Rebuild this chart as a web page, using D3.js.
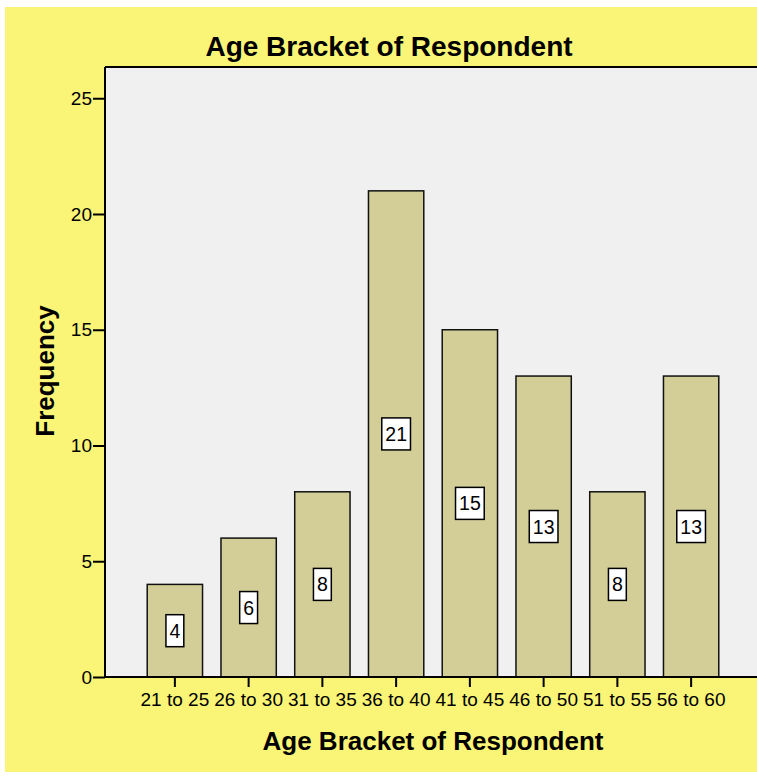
<!DOCTYPE html>
<html>
<head>
<meta charset="utf-8">
<script src="https://cdn.jsdelivr.net/npm/d3@7"></script>
<style>
  body { margin: 0; background: #fff; }
  svg text { font-family: Arial, "Liberation Sans", sans-serif; }
</style>
</head>
<body>
<svg id="chart" width="757" height="776"></svg>
<script>
let categories = ["21 to 25", "26 to 30", "31 to 35", "36 to 40", "41 to 45", "46 to 50", "51 to 55", "56 to 60"];
let frequencies = [4, 6, 8, 21, 15, 13, 8, 13];
let yTicks = [0, 5, 10, 15, 20, 25];

let svg = d3.select("#chart");

// yellow frame
svg.append("rect")
    .attr("x", 5).attr("y", 7)
    .attr("width", 752).attr("height", 765)
    .attr("fill", "#FAF576");

let plot = { left: 105, top: 67, right: 757, bottom: 677 };

let x = d3.scaleBand()
    .domain(categories)
    .range([138, 728])
    .paddingInner(0.25)
    .paddingOuter(0.125);

let y = d3.scaleLinear()
    .domain([0, 25])
    .range([plot.bottom, 98.25]);

// plot background
svg.append("rect")
    .attr("x", plot.left).attr("y", plot.top)
    .attr("width", plot.right - plot.left).attr("height", plot.bottom - plot.top)
    .attr("fill", "#F0F0F0");

svg.append("line")
    .attr("x1", plot.left).attr("x2", plot.right)
    .attr("y1", plot.top).attr("y2", plot.top)
    .attr("stroke", "#000").attr("stroke-width", 2);

// bars
svg.selectAll(".bar")
    .data(frequencies)
    .enter().append("rect")
    .attr("class", "bar")
    .attr("x", function (d, i) { return x(categories[i]); })
    .attr("y", function (d) { return y(d); })
    .attr("width", x.bandwidth())
    .attr("height", function (d) { return plot.bottom - y(d); })
    .attr("fill", "#D3CE98")
    .attr("stroke", "#111")
    .attr("stroke-width", 1.5);

// value labels in white boxes
let labels = svg.selectAll(".lbl")
    .data(frequencies)
    .enter().append("g")
    .attr("class", "lbl")
    .attr("transform", function (d, i) {
        return "translate(" + (x(categories[i]) + x.bandwidth() / 2) + "," + y(d / 2) + ")";
    });

labels.append("text")
    .attr("text-anchor", "middle")
    .attr("dy", "0.36em")
    .attr("font-size", 19.5)
    .text(function (d) { return d; });

labels.each(function () {
    let g = d3.select(this);
    let w = g.select("text").node().getComputedTextLength() + 7;
    g.insert("rect", "text")
        .attr("x", -w / 2).attr("y", -16)
        .attr("width", w).attr("height", 32)
        .attr("fill", "#fff")
        .attr("stroke", "#000")
        .attr("stroke-width", 1.5);
});

// axes
let yAxis = svg.append("g")
    .attr("transform", "translate(" + plot.left + ",0)")
    .call(d3.axisLeft(y).tickValues(yTicks).tickSize(12).tickPadding(1));

let xAxis = svg.append("g")
    .attr("transform", "translate(0," + plot.bottom + ")")
    .call(d3.axisBottom(x).tickSize(10).tickPadding(6));

xAxis.select(".domain").remove();
svg.append("line")
    .attr("x1", plot.left).attr("x2", plot.right)
    .attr("y1", plot.bottom).attr("y2", plot.bottom)
    .attr("stroke", "#000").attr("stroke-width", 2);

yAxis.select(".domain")
    .attr("d", "M0," + plot.top + "V" + plot.bottom)
    .attr("stroke-width", 2);

[yAxis, xAxis].forEach(function (a) {
    a.selectAll(".tick line").attr("stroke", "#000").attr("stroke-width", 2);
    a.selectAll(".tick text")
        .attr("fill", "#000")
        .attr("font-size", 19)
        .attr("font-family", "Arial, 'Liberation Sans', sans-serif");
});

// titles
svg.append("text")
    .attr("x", 389).attr("y", 56)
    .attr("text-anchor", "middle")
    .attr("font-size", 28)
    .attr("font-weight", "bold")
    .text("Age Bracket of Respondent");

svg.append("text")
    .attr("x", 433).attr("y", 750)
    .attr("text-anchor", "middle")
    .attr("font-size", 26)
    .attr("font-weight", "bold")
    .text("Age Bracket of Respondent");

svg.append("text")
    .attr("transform", "translate(54,371) rotate(-90)")
    .attr("text-anchor", "middle")
    .attr("font-size", 26)
    .attr("font-weight", "bold")
    .text("Frequency");
</script>
</body>
</html>
